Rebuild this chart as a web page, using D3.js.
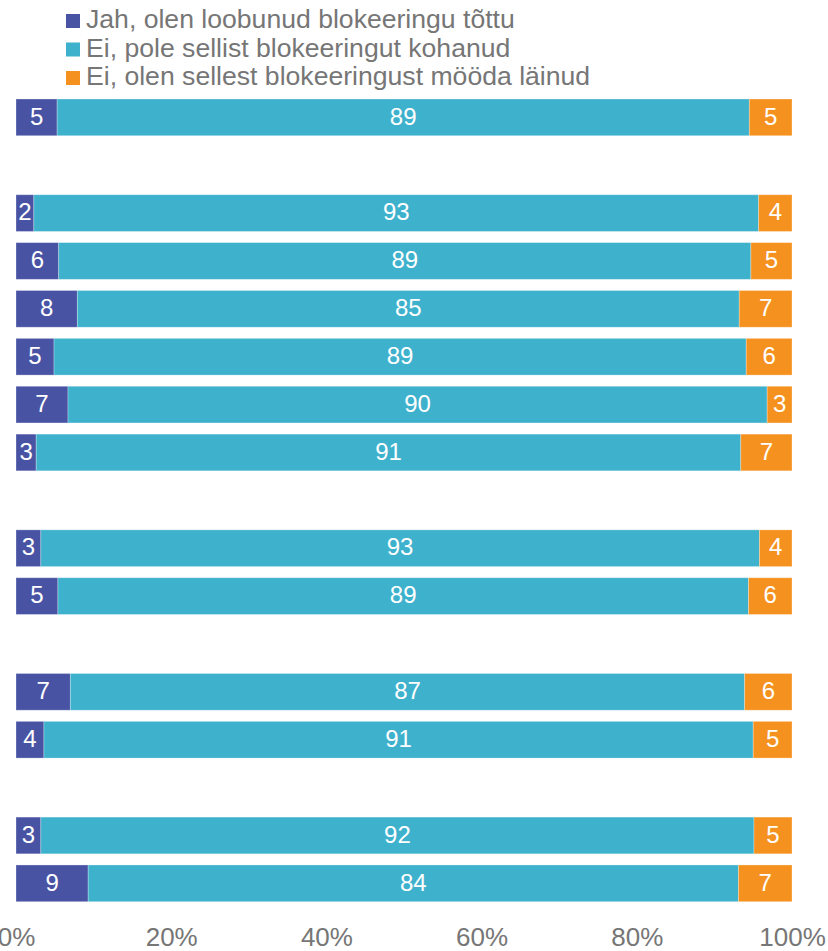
<!DOCTYPE html>
<html>
<head>
<meta charset="utf-8">
<script src="https://cdn.jsdelivr.net/npm/d3@7"></script>
<style>
  body { margin: 0; background: #fff; }
  svg { display: block; font-family: "Liberation Sans", Arial, sans-serif; }
</style>
</head>
<body>
<div id="chart"></div>
<script>
// series names (legend)
var seriesNames = ["Jah, olen loobunud blokeeringu tõttu",
                   "Ei, pole sellist blokeeringut kohanud",
                   "Ei, olen sellest blokeeringust mööda läinud"];
var colors = ["#4953a4", "#3eb1cd", "#f5921f"];

// rows (no visible labels), group number decides the gaps between blocks
var rows = ["r1","r2","r3","r4","r5","r6","r7","r8","r9","r10","r11","r12","r13"];
var groups = [1,2,2,2,2,2,2,3,3,4,4,5,5];

// values in percent
var jah    = [5.3, 2.3, 5.5, 7.9, 4.9, 6.7, 2.6, 3.2, 5.4, 7.0, 3.6, 3.2, 9.3];
var ei     = [89.2, 93.4, 89.2, 85.3, 89.2, 90.1, 90.8, 92.6, 89.0, 86.9, 91.4, 91.9, 83.8];
var moodas = [5.5, 4.3, 5.3, 6.8, 5.9, 3.2, 6.6, 4.2, 5.6, 6.1, 5.0, 4.9, 6.9];

// printed labels
var jahLbl    = [5, 2, 6, 8, 5, 7, 3, 3, 5, 7, 4, 3, 9];
var eiLbl     = [89, 93, 89, 85, 89, 90, 91, 93, 89, 87, 91, 92, 84];
var moodasLbl = [5, 4, 5, 7, 6, 3, 7, 4, 6, 6, 5, 5, 7];

var xTicks = [0, 20, 40, 60, 80, 100];

var W = 828, H = 951;
var svg = d3.select("#chart").append("svg")
    .attr("width", W)
    .attr("height", H);

// band domain with an empty slot between groups
var slots = [];
rows.forEach(function(r, i) {
  if (i > 0 && groups[i] != groups[i-1]) slots.push("gap" + i);
  slots.push(r);
});

var x = d3.scaleLinear().domain([0, 100]).range([16, 792]);
var y = d3.scaleBand().domain(slots).range([99, 901.7]).paddingInner(0.233).paddingOuter(0);

var table = rows.map(function(r, i) {
  return { row: r, vals: [jah[i], ei[i], moodas[i]], lbls: [jahLbl[i], eiLbl[i], moodasLbl[i]] };
});

var stack = d3.stack().keys([0, 1, 2]).value(function(d, k) { return d.vals[k]; });
var layers = stack(table);

var layer = svg.selectAll(".layer")
  .data(layers)
  .enter().append("g")
    .attr("class", "layer")
    .attr("fill", function(d, i) { return colors[i]; });

layer.selectAll("rect")
  .data(function(d) { return d; })
  .enter().append("rect")
    .attr("x", function(d) { return x(d[0]); })
    .attr("y", function(d) { return y(d.data.row); })
    .attr("width", function(d) { return x(d[1]) - x(d[0]); })
    .attr("height", y.bandwidth())
    .attr("stroke", "#ffffff")
    .attr("stroke-opacity", 0.35)
    .attr("stroke-width", 0.8);

layer.selectAll("text")
  .data(function(d, i) { return d.map(function(p) { return { p: p, k: i }; }); })
  .enter().append("text")
    .attr("x", function(d) { return (x(d.p[0]) + x(d.p[1])) / 2; })
    .attr("y", function(d) { return y(d.p.data.row) + y.bandwidth() / 2; })
    .attr("dy", "0.3em")
    .attr("text-anchor", "middle")
    .attr("fill", "#ffffff")
    .attr("font-size", "24px")
    .text(function(d) { return d.p.data.lbls[d.k]; });

// x axis: labels only
var xAxis = d3.axisBottom(x)
  .tickValues(xTicks)
  .tickSize(0)
  .tickPadding(0)
  .tickFormat(function(d) { return d + "%"; });

var gx = svg.append("g")
  .attr("transform", "translate(0,946)")
  .call(xAxis);
gx.select(".domain").remove();
gx.selectAll("text")
  .attr("fill", "#767676")
  .attr("font-size", "26px")
  .attr("font-family", "Liberation Sans, Arial, sans-serif")
  .attr("y", 0)
  .attr("dy", 0);

// legend
var legend = svg.append("g").attr("transform", "translate(66,14)");
var li = legend.selectAll("g")
  .data(seriesNames)
  .enter().append("g")
    .attr("transform", function(d, i) { return "translate(0," + (i * 28.5) + ")"; });
li.append("rect")
  .attr("width", 14)
  .attr("height", 14)
  .attr("fill", function(d, i) { return colors[i]; });
li.append("text")
  .attr("x", 20)
  .attr("y", 14)
  .attr("fill", "#767676")
  .attr("font-size", "26.6px")
  .text(function(d) { return d; });
</script>
</body>
</html>
